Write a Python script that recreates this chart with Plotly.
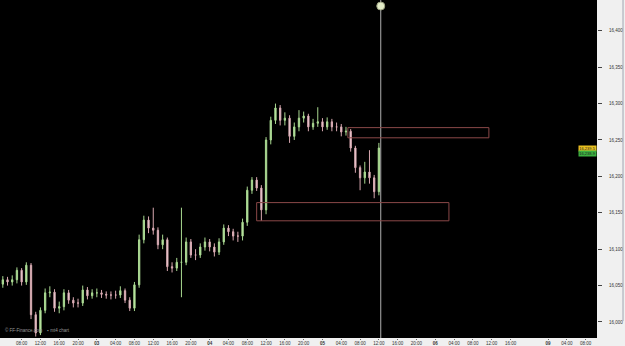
import plotly.graph_objects as go

# hours relative to day "03" 00:00, one hourly candle each
hours = list(range(-20, 61))
closes = [16058,16055,16058,16071,16055,16078,16010,15985,16016,16040,16041,16019,16021,16040,16030,16026,16026,16044,16036,16040,
          16040,16038,16037,16037,16037,16043,16030,16019,16051,16113,16140,16129,16126,16106,16113,16076,16074,16082,16082,16110,
          16092,16092,16103,16110,16103,16096,16110,16129,16124,16118,16118,16137,16181,16195,16184,16154,16250,16277,16294,16277,
          16280,16255,16268,16280,16283,16268,16273,16275,16268,16275,16268,16268,16261,16262,16239,16212,16198,16206,16198,16179,16239]
first_open = 16052
highs = [16063,16062,16064,16075,16074,16082,16081,16014,16020,16046,16049,16045,16028,16045,16044,16034,16032,16050,16048,16045,
         16046,16044,16042,16042,16043,16049,16046,16034,16055,16120,16146,16145,16157,16130,16120,16116,16082,16088,16157,16116,
         16114,16100,16108,16116,16114,16108,16115,16134,16133,16128,16124,16142,16186,16199,16199,16188,16254,16282,16300,16298,
         16288,16284,16274,16291,16289,16286,16279,16295,16280,16281,16279,16274,16272,16268,16265,16242,16215,16220,16236,16202,16246]
lows = [16047,16050,16050,16053,16050,16051,16004,15980,15982,16012,16034,16014,16012,16016,16025,16020,16020,16022,16031,16032,
        16034,16033,16032,16031,16032,16033,16026,16015,16015,16047,16108,16122,16120,16100,16100,16070,16068,16070,16034,16078,
        16088,16085,16088,16098,16097,16090,16092,16106,16118,16112,16110,16112,16132,16176,16180,16139,16148,16244,16272,16270,
        16270,16246,16250,16262,16274,16262,16264,16268,16262,16264,16262,16262,16255,16256,16234,16205,16181,16190,16190,16170,16174]
opens = [first_open] + closes[:-1]

# supply / demand zones: [x0 hour, x1 hour, low price, high price]
upper_zone = [53.4, 83.4, 16253, 16267]
lower_zone = [34.0, 74.9, 16139, 16164]
now_hour = 60.4

tick_hours = [-16, -12, -8, -4, 0, 4, 8, 12, 16, 20, 24, 28, 32, 36, 40, 44, 48, 52, 56, 60, 64, 68, 72, 76, 80, 84, 88, 96, 100, 104]
tick_labels = ["08:00", "12:00", "16:00", "20:00", "<b>03</b>", "04:00", "08:00", "12:00", "16:00", "20:00", "<b>04</b>",
               "04:00", "08:00", "12:00", "16:00", "20:00", "<b>05</b>", "04:00", "08:00", "12:00", "16:00", "20:00",
               "<b>06</b>", "04:00", "08:00", "12:00", "16:00", "<b>09</b>", "04:00", "08:00"]
price_ticks = [16000, 16050, 16100, 16150, 16200, 16250, 16300, 16350, 16400]
price_labels = ["16,000", "16,050", "16,100", "16,150", "16,200", "16,250", "16,300", "16,350", "16,400"]

fig = go.Figure()
fig.add_trace(go.Candlestick(
    x=hours, open=opens, high=highs, low=lows, close=closes,
    increasing=dict(line=dict(color="#a8d890", width=1), fillcolor="#c8f0b0"),
    decreasing=dict(line=dict(color="#d8a8b0", width=1), fillcolor="#f4e4e8"),
    whiskerwidth=0, showlegend=False, hoverinfo="skip"))

fig.add_trace(go.Scatter(x=[now_hour], y=[16434], mode="markers",
                         marker=dict(size=8, color="#e4ecc8", line=dict(color="#9aa080", width=1)),
                         showlegend=False, hoverinfo="skip"))

for z in (upper_zone, lower_zone):
    fig.add_shape(type="rect", xref="x", yref="y", x0=z[0], x1=z[1], y0=z[2], y1=z[3],
                  line=dict(color="#8a4848", width=1), fillcolor="rgba(0,0,0,0)", layer="above")

fig.add_shape(type="line", xref="x", yref="paper", x0=now_hour, x1=now_hour, y0=0, y1=1,
              line=dict(color="#b0b0b0", width=1), layer="below")
# thin scrollbar line at the far right edge
fig.add_shape(type="line", xref="paper", yref="paper", x0=1.0436, x1=1.0436, y0=0.05, y1=1,
              line=dict(color="#a0a4b0", width=1))

fig.add_annotation(xref="paper", yref="y", x=1.0, y=16239, xanchor="right", yanchor="middle",
                   text="16,239.5", showarrow=False, font=dict(size=4, color="#222", family="Arial"),
                   bgcolor="#e8c020", borderpad=0, width=17, height=5)
fig.add_annotation(xref="paper", yref="y", x=1.0, y=16232, xanchor="right", yanchor="middle",
                   text="16,238.9", showarrow=False, font=dict(size=4, color="#222", family="Arial"),
                   bgcolor="#3cb040", borderpad=0, width=17, height=5)
fig.add_annotation(xref="paper", yref="paper", x=0.005, y=0.008, xanchor="left", yanchor="bottom",
                   text="© FF-Finance.com    ▪ mt4 chart", showarrow=False,
                   font=dict(size=4.5, color="#9a9a9a", family="Arial"))

fig.update_layout(
    width=625, height=346,
    margin=dict(l=0, r=28, t=0, b=8),
    paper_bgcolor="#f0f0f0", plot_bgcolor="#000000",
    boxgap=0.6,
    xaxis=dict(range=[-20.6, 106.4], tickvals=tick_hours, ticktext=tick_labels,
               showgrid=False, zeroline=False, rangeslider=dict(visible=False),
               tickfont=dict(size=4.5, color="#333", family="Arial"), ticks="outside", ticklen=1,
               tickcolor="#666", automargin=False, fixedrange=True),
    yaxis=dict(range=[15978, 16442.3], side="right", tickvals=price_ticks, ticktext=price_labels,
               showgrid=False, zeroline=False, ticks="outside", ticklen=4, tickcolor="#444",
               ticklabelstandoff=6,
               tickfont=dict(size=4.5, color="#333", family="Arial"), automargin=False),
)

fig.write_html("out.html")
